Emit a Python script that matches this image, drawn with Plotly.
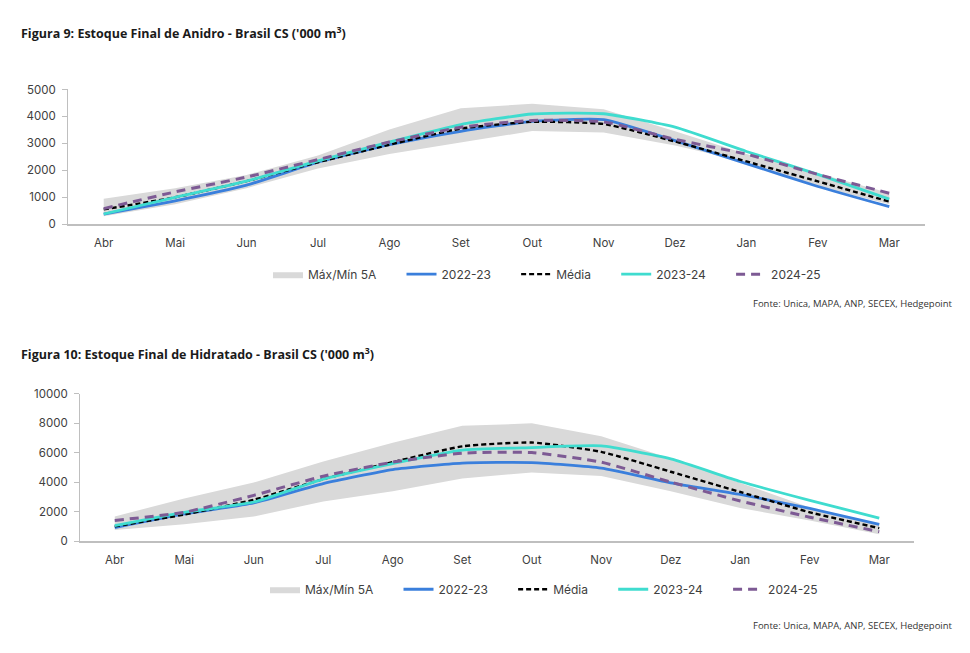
import plotly.graph_objects as go

months = ["Abr", "Mai", "Jun", "Jul", "Ago", "Set", "Out", "Nov", "Dez", "Jan", "Fev", "Mar"]

# Figura 9 - Anidro
an_max = [950, 1340, 1830, 2550, 3520, 4300, 4470, 4270, 3450, 2610, 1890, 1160]
an_min = [300, 740, 1340, 2070, 2610, 3040, 3460, 3400, 2920, 2310, 1400, 740]
an_2223 = [380, 870, 1450, 2300, 2950, 3450, 3820, 3880, 3100, 2250, 1400, 650]
an_media = [550, 1000, 1600, 2300, 2950, 3550, 3800, 3720, 3070, 2330, 1590, 840]
an_2324 = [380, 1000, 1600, 2350, 3050, 3700, 4090, 4100, 3600, 2700, 1850, 930]
an_2425 = [580, 1200, 1750, 2400, 3050, 3600, 3850, 3800, 3150, 2600, 1850, 1150]

# Figura 10 - Hidratado
hi_max = [1670, 2890, 3970, 5390, 6670, 7810, 7980, 7100, 5600, 3930, 2280, 1140]
hi_min = [750, 1140, 1670, 2680, 3380, 4250, 4650, 4410, 3380, 2240, 1400, 460]
hi_2223 = [920, 1840, 2590, 3900, 4850, 5290, 5320, 4950, 3950, 3160, 2210, 1140]
hi_media = [1000, 1800, 2800, 4200, 5350, 6420, 6680, 6050, 4700, 3330, 1950, 880]
hi_2324 = [1050, 1950, 2650, 4200, 5250, 6160, 6340, 6450, 5570, 4040, 2760, 1560]
hi_2425 = [1400, 1950, 3100, 4400, 5350, 5960, 6000, 5350, 4000, 2720, 1620, 640]

series_names = ["Máx/Mín 5A", "2022-23", "Média", "2023-24", "2024-25"]

H = 653.0
W = 970.0
BAND = "#d9d9d9"
BLUE = "#3a7fdc"
CYAN = "#3fdccf"
BLACK = "#000000"
PURPLE = "#7d5a94"
FONT = "Inter"
SM = 0.5
PAD = "\u00a0" * 6

fig = go.Figure()

def add_chart(xa, ya, leg, vmax, vmin, s1, sm, s2, s3):
    n = [s + PAD for s in series_names[:-1]] + [series_names[-1]]
    fig.add_trace(go.Scatter(x=months, y=vmin, mode="lines", line=dict(width=0, color=BAND),
                             showlegend=False, hoverinfo="skip", xaxis=xa, yaxis=ya, legend=leg))
    fig.add_trace(go.Scatter(x=months, y=vmax, mode="lines", line=dict(width=0, color=BAND),
                             fill="tonexty", fillcolor=BAND, name=n[0],
                             xaxis=xa, yaxis=ya, legend=leg))
    fig.add_trace(go.Scatter(x=months, y=s1, mode="lines", name=n[1],
                             line=dict(color=BLUE, width=2.8, shape="spline", smoothing=SM),
                             xaxis=xa, yaxis=ya, legend=leg))
    fig.add_trace(go.Scatter(x=months, y=sm, mode="lines", name=n[2],
                             line=dict(color=BLACK, width=2.4, dash="5px,3px", shape="spline", smoothing=SM),
                             xaxis=xa, yaxis=ya, legend=leg))
    fig.add_trace(go.Scatter(x=months, y=s2, mode="lines", name=n[3],
                             line=dict(color=CYAN, width=2.8, shape="spline", smoothing=SM),
                             xaxis=xa, yaxis=ya, legend=leg))
    fig.add_trace(go.Scatter(x=months, y=s3, mode="lines", name=n[4],
                             line=dict(color=PURPLE, width=3, dash="9px,6px", shape="spline", smoothing=SM),
                             xaxis=xa, yaxis=ya, legend=leg))

add_chart("x", "y", "legend", an_max, an_min, an_2223, an_media, an_2324, an_2425)
add_chart("x2", "y2", "legend2", hi_max, hi_min, hi_2223, hi_media, hi_2324, hi_2425)

axis_font = dict(family=FONT, size=11.5, color="#404040")
xcommon = dict(type="category", range=[-0.5, 11.5], showgrid=False, showline=True, linecolor="#bfbfbf",
               linewidth=1.5, ticks="", tickfont=axis_font, ticklabelstandoff=7, zeroline=False,
               fixedrange=True)
ycommon = dict(showgrid=False, showline=True, linecolor="#bfbfbf", linewidth=1, ticks="outside",
               ticklen=5, tickcolor="#bfbfbf", tickfont=axis_font, zeroline=False, ticklabelstandoff=4,
               tickformat="d")

leg_common = dict(orientation="h", xanchor="center", yanchor="middle", traceorder="normal",
                  font=dict(family=FONT, size=12, color="#404040"), bgcolor="rgba(0,0,0,0)",
                  itemwidth=30, tracegroupgap=0)

fig.update_layout(
    width=970, height=653,
    margin=dict(l=0, r=0, t=0, b=0),
    paper_bgcolor="white", plot_bgcolor="white",
    xaxis=dict(domain=[68 / W, 925 / W], anchor="y", **xcommon),
    yaxis=dict(domain=[1 - 222 / H, 1 - 84.3 / H], anchor="x", range=[0, 5000], dtick=1000, **ycommon),
    xaxis2=dict(domain=[80 / W, 914 / W], anchor="y2", **xcommon),
    yaxis2=dict(domain=[1 - 545.8 / H, 1 - 395 / H], anchor="x2", range=[0, 10000], dtick=2000, **ycommon),
    legend=dict(x=547 / W, y=1 - 273 / H, **leg_common),
    legend2=dict(x=544 / W, y=1 - 595 / H, **leg_common),
    showlegend=True,
    annotations=[
        dict(text="<b>Figura 9: Estoque Final de Anidro - Brasil CS ('000 m<sup>3</sup>)</b>",
             x=19 / W, y=1 - 27 / H, xref="paper", yref="paper", xanchor="left", yanchor="middle",
             showarrow=False, font=dict(family="Open Sans", size=12.5, color="#1a1a1a")),
        dict(text="<b>Figura 10: Estoque Final de Hidratado - Brasil CS ('000 m<sup>3</sup>)</b>",
             x=19 / W, y=1 - 355 / H, xref="paper", yref="paper", xanchor="left", yanchor="middle",
             showarrow=False, font=dict(family="Open Sans", size=12.5, color="#1a1a1a")),
        dict(text="Fonte: Unica, MAPA, ANP, SECEX, Hedgepoint",
             x=955 / W, y=1 - 303 / H, xref="paper", yref="paper", xanchor="right", yanchor="middle",
             showarrow=False, font=dict(family="Open Sans", size=9.5, color="#333333")),
        dict(text="Fonte: Unica, MAPA, ANP, SECEX, Hedgepoint",
             x=955 / W, y=1 - 632 / H, xref="paper", yref="paper", xanchor="right", yanchor="middle",
             showarrow=False, font=dict(family="Open Sans", size=9.5, color="#333333")),
    ],
)

fig.write_html("out.html")
